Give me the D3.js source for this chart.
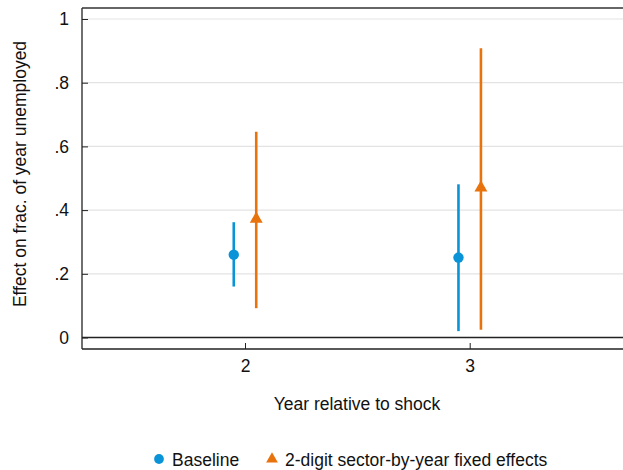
<!DOCTYPE html>
<html><head><meta charset="utf-8">
<script src="https://cdn.jsdelivr.net/npm/d3@7"></script>
<style>body{margin:0;background:#fff}svg{display:block;font-family:"Liberation Sans",Arial,sans-serif}</style>
</head><body>
<svg id="c" width="623" height="470"></svg>
<script>
const years = [2, 3];
const seriesNames = ["Baseline", "2-digit sector-by-year fixed effects"];
const baselineEst = [0.26, 0.251];
const baselineLo = [0.16, 0.02];
const baselineHi = [0.362, 0.481];
const sectorEst = [0.372, 0.47];
const sectorLo = [0.092, 0.024];
const sectorHi = [0.646, 0.908];
const yTicks = [0, 0.2, 0.4, 0.6, 0.8, 1];
const yTickLabels = ["0", ".2", ".4", ".6", ".8", "1"];
const offsets = [-0.05, 0.05];
const colors = ["#0a93d7", "#e8730d"];

(function () {
const FS = 17.5;
const svg = d3.select("#c");
const pL = 82, pT = 8, pR = 623, pB = 349;
const x = d3.scaleLinear().domain([2, 3]).range([245, 469.7]);
const y = d3.scaleLinear().domain([0, 1]).range([337.5, 19]);

// gridlines
svg.append("g").selectAll("line").data(yTicks.filter(d => d > 0)).join("line")
  .attr("x1", pL).attr("x2", pR).attr("y1", d => y(d)).attr("y2", d => y(d))
  .attr("stroke", "#e3e3e3").attr("stroke-width", 1.2);
// zero line
svg.append("line").attr("x1", pL).attr("x2", pR).attr("y1", y(0)).attr("y2", y(0))
  .attr("stroke", "#222").attr("stroke-width", 1.3);

// y axis with inward ticks
const yAxis = d3.axisLeft(y).tickValues(yTicks).tickFormat((d, i) => yTickLabels[i])
  .tickSizeInner(-6).tickSizeOuter(0).tickPadding(13);
const gy = svg.append("g").attr("transform", `translate(${pL},0)`).call(yAxis)
  .attr("font-size", FS).attr("font-family", null);
gy.select(".domain").remove();
gy.selectAll(".tick line").attr("stroke", "#222");
gy.selectAll("text").attr("fill", "#111");
svg.append("line").attr("x1", pL).attr("x2", pL).attr("y1", pT).attr("y2", pB).attr("stroke", "#222").attr("stroke-width", 1.3);
svg.append("line").attr("x1", pL).attr("x2", pR).attr("y1", pT).attr("y2", pT).attr("stroke", "#333").attr("stroke-width", 1.3);

// x axis
const xAxis = d3.axisBottom(x).tickValues(years).tickFormat(d3.format("d"))
  .tickSizeInner(-6).tickSizeOuter(0).tickPadding(11);
const gx = svg.append("g").attr("transform", `translate(0,${pB})`).call(xAxis)
  .attr("font-size", FS).attr("font-family", null);
gx.select(".domain").remove();
gx.selectAll(".tick line").attr("stroke", "#222");
gx.selectAll("text").attr("fill", "#111");
svg.append("line").attr("x1", pL).attr("x2", pR).attr("y1", pB).attr("y2", pB).attr("stroke", "#222").attr("stroke-width", 1.3);

// titles
svg.append("text").attr("x", 357).attr("y", 410).attr("text-anchor", "middle")
  .attr("font-size", FS).attr("fill", "#111").text("Year relative to shock");
svg.append("text").attr("transform", "translate(26,174) rotate(-90)").attr("text-anchor", "middle")
  .attr("font-size", FS).attr("fill", "#111").text("Effect on frac. of year unemployed");

// series
const series = [
  {est: baselineEst, lo: baselineLo, hi: baselineHi},
  {est: sectorEst, lo: sectorLo, hi: sectorHi}
];
series.forEach((s, si) => {
  const g = svg.append("g");
  const data = years.map((yr, i) => ({yr, est: s.est[i], lo: s.lo[i], hi: s.hi[i]}));
  g.selectAll("line").data(data).join("line")
    .attr("x1", d => x(d.yr + offsets[si])).attr("x2", d => x(d.yr + offsets[si]))
    .attr("y1", d => y(d.lo)).attr("y2", d => y(d.hi))
    .attr("stroke", colors[si]).attr("stroke-width", 2.6);
  const sym = si === 0 ? d3.symbolCircle : d3.symbolTriangle;
  const size = si === 0 ? 85 : 72;
  g.selectAll("path").data(data).join("path")
    .attr("transform", d => `translate(${x(d.yr + offsets[si])},${y(d.est)})`)
    .attr("d", d3.symbol().type(sym).size(size)).attr("fill", colors[si]);
});

// legend
const legend = svg.append("g");
const legItems = [{x: 159, tx: 172}, {x: 272, tx: 285}];
legItems.forEach((it, i) => {
  legend.append("path").attr("transform", `translate(${it.x},459)`)
    .attr("d", d3.symbol().type(i === 0 ? d3.symbolCircle : d3.symbolTriangle).size(i === 0 ? 75 : 60))
    .attr("fill", colors[i]);
  legend.append("text").attr("x", it.tx).attr("y", 465.5).attr("font-size", FS)
    .attr("fill", "#111").text(seriesNames[i]);
});
})();
</script>
</body></html>
